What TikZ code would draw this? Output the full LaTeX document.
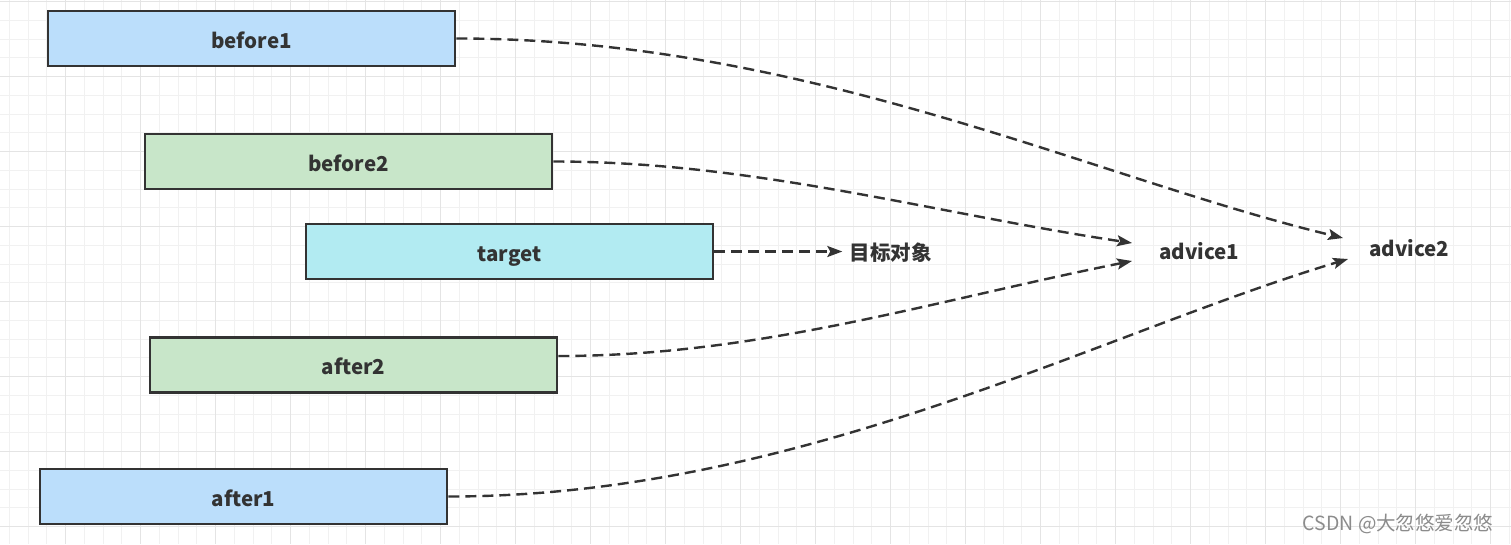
\documentclass[tikz,border=0pt]{standalone}
\usepackage{fontspec}
\newfontfamily\cjkfont{Noto Sans CJK SC}
\usepackage{tikz}
\usetikzlibrary{arrows.meta, positioning}
\usepackage{xcolor}
\definecolor{lineGray}{HTML}{333333}
\definecolor{boxBlue}{HTML}{BBDEFB}
\definecolor{boxGreen}{HTML}{C8E6C9}
\definecolor{boxCyan}{HTML}{B2EBF2}
\definecolor{gridMinor}{HTML}{F1F1F1}
\definecolor{gridMajor}{HTML}{E4E4E4}
\definecolor{markGray}{HTML}{8C8C8C}

\begin{document}
\begin{tikzpicture}[
        x=1pt, y=-1pt,
        font=\cjkfont\bfseries\fontsize{20.5pt}{24pt}\selectfont,
        callbox/.style={rectangle, draw=lineGray, line width=2.6pt, text=lineGray, minimum width=407pt, minimum height=55pt, inner sep=0pt, text height=19pt, text depth=0pt},
        plain/.style={text=lineGray, inner xsep=27pt, inner ysep=2pt, text height=17pt, text depth=0pt},
        flow/.style={-{Stealth[length=15pt, width=11pt, inset=3pt]}, lineGray, line width=2.4pt, dash pattern=on 11pt off 6pt},
        gridminor/.style={gridMinor, line width=1pt},
        gridmajor/.style={gridMajor, line width=1pt}
    ]
        % Background grid
        \useasboundingbox (0,0) rectangle (1511,544);
        \fill[white] (0,0) rectangle (1511,544);
        \foreach \i in {0,...,80} \draw[gridminor] ({9.3+18.75*\i},0) -- ++(0,544);
        \foreach \i in {0,...,29} \draw[gridminor] (0,{1.7+18.75*\i}) -- ++(1511,0);
        \foreach \i in {0,...,19} \draw[gridmajor] ({65.7+75*\i},0) -- ++(0,544);
        \foreach \i in {0,...,7} \draw[gridmajor] (0,{1.7+75*\i}) -- ++(1511,0);

        % Boxes
        \node[callbox, fill=boxBlue] (before1) at (251.5,38.5) {before1};
        \node[callbox, fill=boxGreen] (before2) at (348.5,161.5) {before2};
        \node[callbox, fill=boxCyan] (target) at (509.5,251.5) {target};
        \node[callbox, fill=boxGreen] (after2) at (353.5,365) {after2};
        \node[callbox, fill=boxBlue] (after1) at (243.5,496.5) {after1};

        % Labels
        \node[plain, inner xsep=7pt, right=128pt of target] (object) {目标对象};
        \node[plain, anchor=west] (advice1) at (1132,251) {advice1};
        \node[plain, anchor=west, inner xsep=26pt] (advice2) at (1343,248) {advice2};

        \draw[flow] (before1.east) .. controls +(350,0) and +(-250,-60) .. ([yshift=10pt]advice2.west);
        \draw[flow] (before2.east) .. controls +(200,0) and +(-200,-30) .. ([yshift=8pt]advice1.west);
        \draw[flow] (target) -- (object);
        \draw[flow] ([yshift=9pt]after2.east) .. controls +(200,0) and +(-200,40) .. ([yshift=-10pt]advice1.west);
        \draw[flow] (after1.east) .. controls +(350,0) and +(-250,75) .. ([xshift=5pt,yshift=-11pt]advice2.west);

        \node[text=markGray, font=\cjkfont\fontsize{19.5pt}{22pt}\selectfont, anchor=east] (mark) at (1497,524) {CSDN @大忽悠爱忽悠};
    \end{tikzpicture}
\end{document}
